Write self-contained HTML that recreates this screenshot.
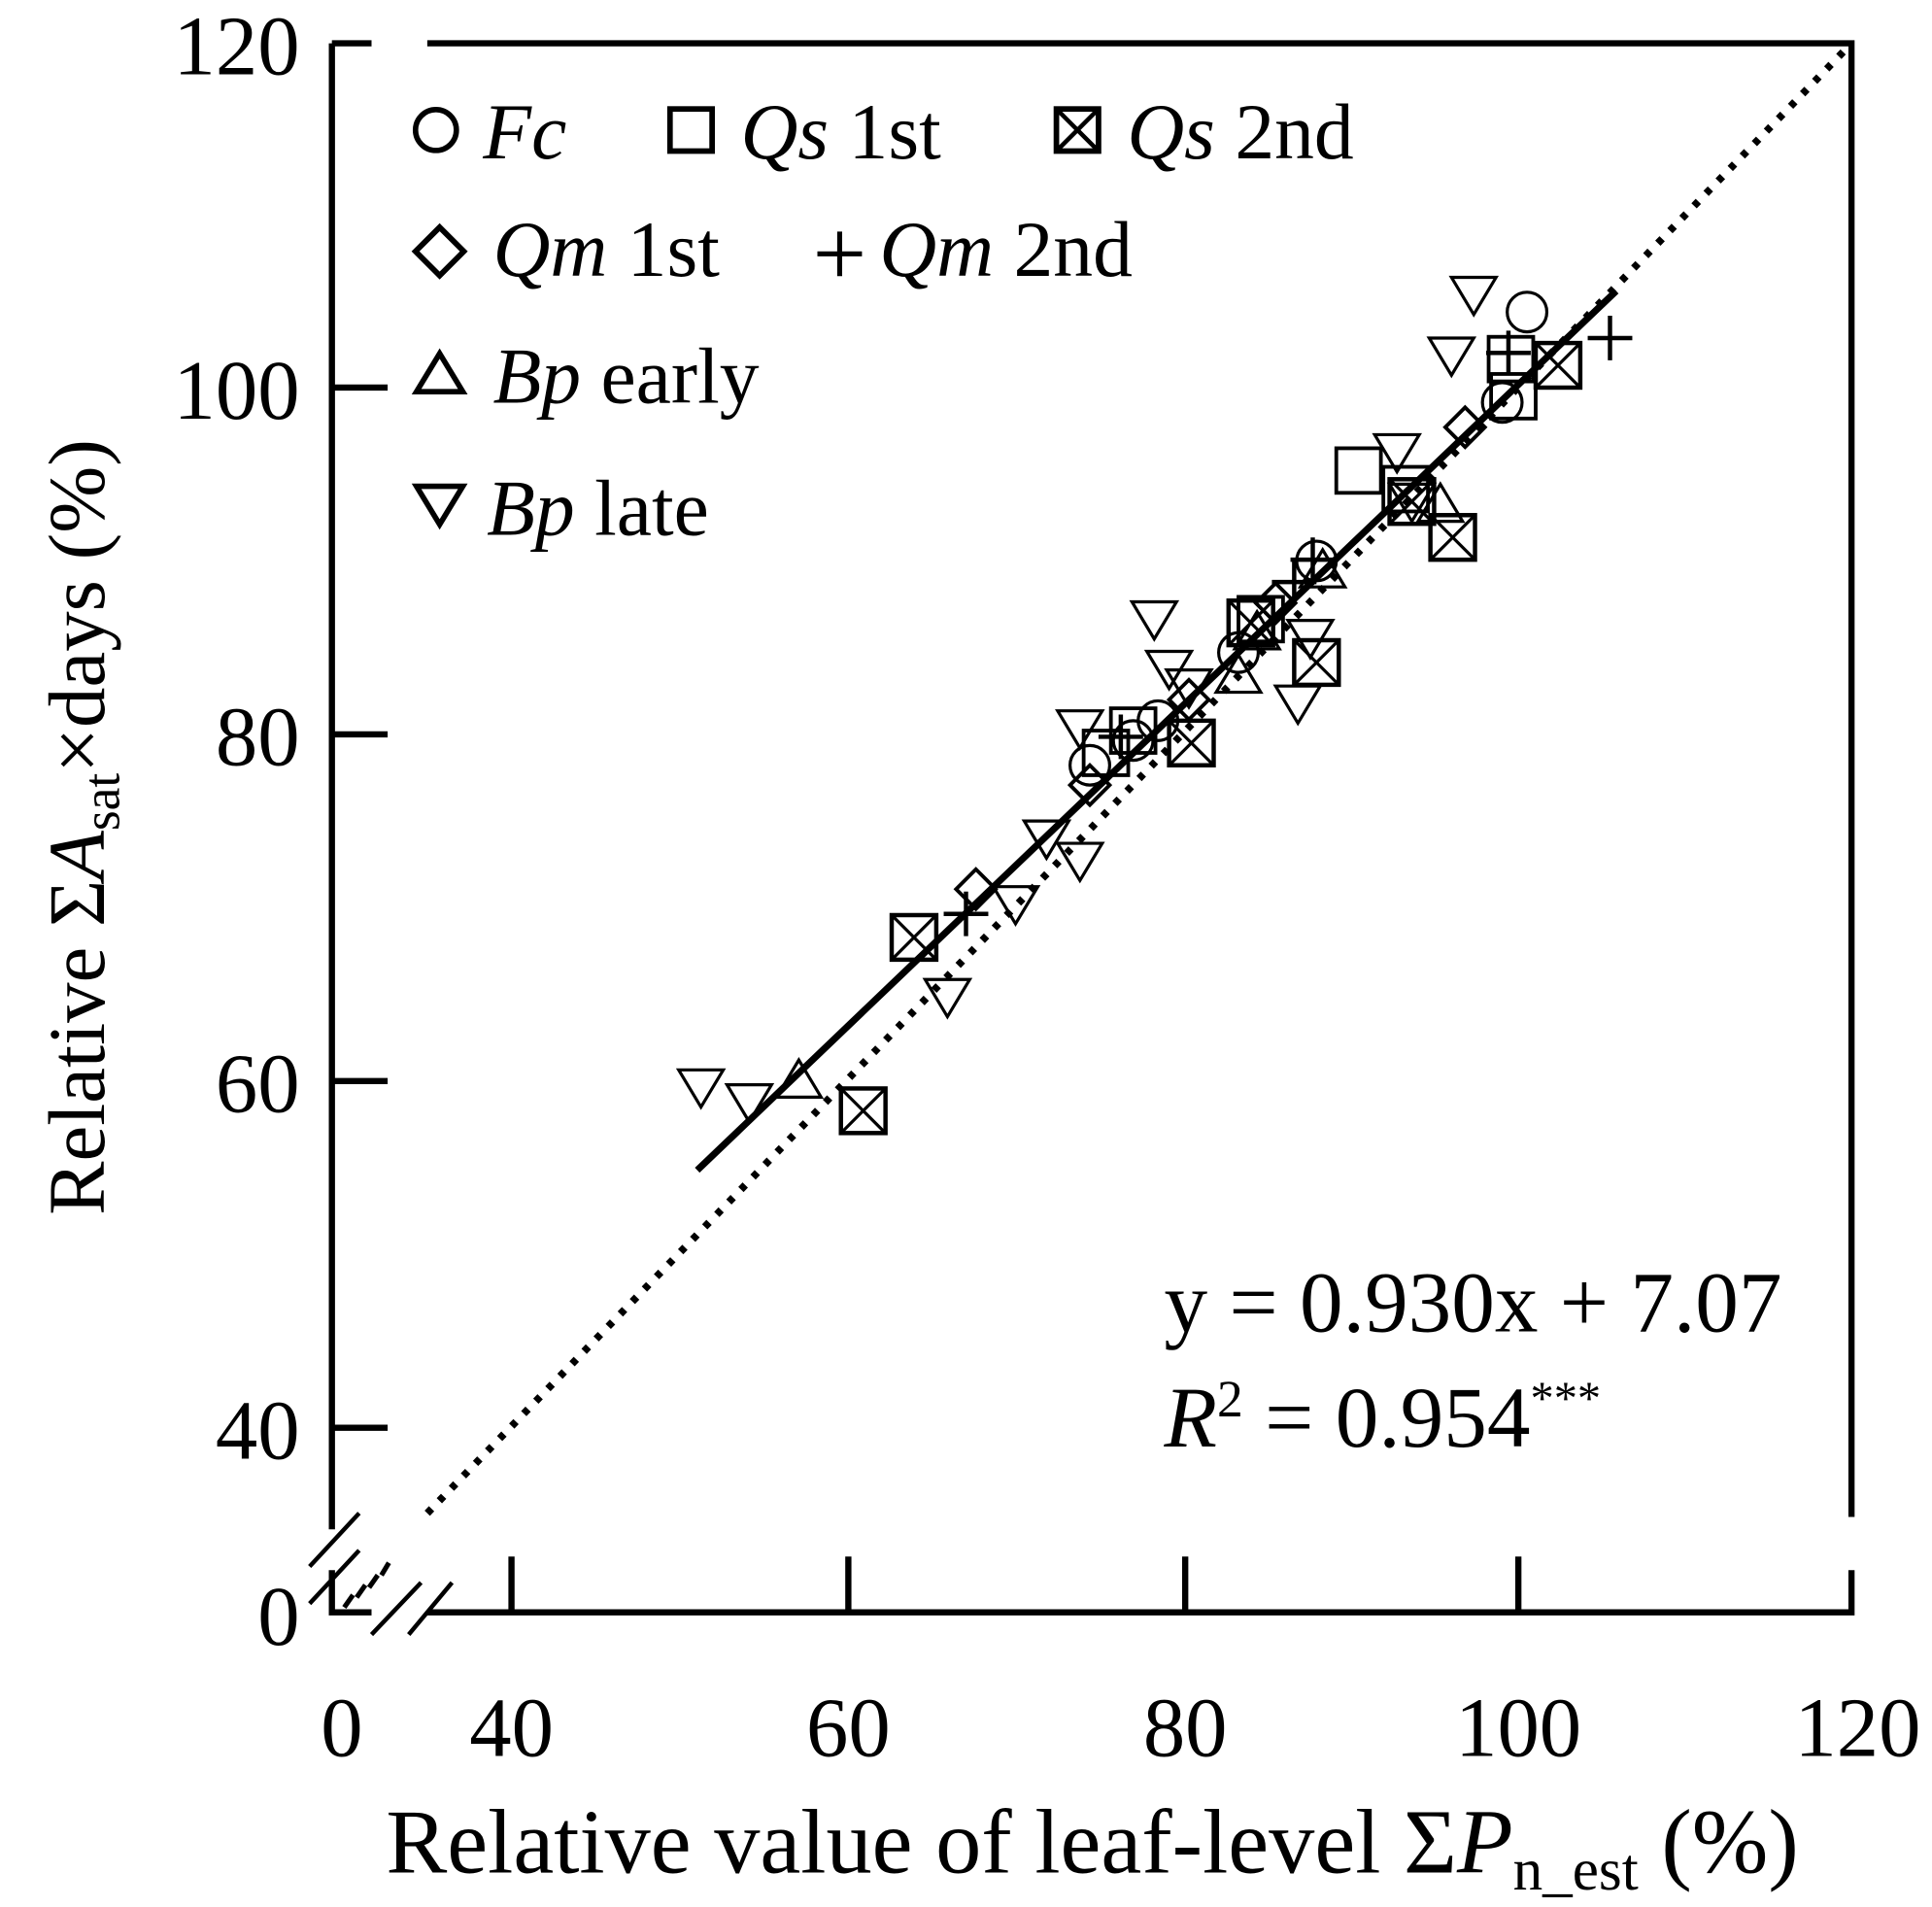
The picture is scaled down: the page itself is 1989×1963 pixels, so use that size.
<!DOCTYPE html>
<html><head><meta charset="utf-8"><style>html,body{margin:0;padding:0;background:#fff}svg{display:block}</style></head><body>
<svg width="1989" height="1963" viewBox="0 0 1560 1540" preserveAspectRatio="none" xmlns="http://www.w3.org/2000/svg" font-family="Liberation Serif, serif">
<defs>
<g id="dt"><path d="M-18,-14 L18,-14 L0,16 Z" fill="none" stroke="#000" stroke-width="2.5"/></g>
<g id="ut"><path d="M-18,14 L18,14 L0,-16 Z" fill="none" stroke="#000" stroke-width="2.5"/></g>
<g id="ci"><circle r="16" fill="none" stroke="#000" stroke-width="2.5"/></g>
<g id="sq"><rect x="-18" y="-18" width="36" height="36" fill="none" stroke="#000" stroke-width="3"/></g>
<g id="xs"><rect x="-18" y="-18" width="36" height="36" fill="none" stroke="#000" stroke-width="3.5"/><path d="M-18,-18L18,18M18,-18L-18,18" stroke="#000" stroke-width="2.5"/></g>
<g id="di"><path d="M0,-16L16,0L0,16L-16,0Z" fill="none" stroke="#000" stroke-width="3"/></g>
<g id="pl"><path d="M-18,0H18M0,-18V18" stroke="#000" stroke-width="3.5"/></g>
</defs>
<g stroke="#000" stroke-width="5" fill="none">
<path d="M268,35V1235M268,1268V1302H300M345,1302H1495V1268M1495,1225V35H345M300,35H268"/>
<path d="M268,313H313M268,593H313M268,873H313M268,1153H313"/>
<path d="M413,1302V1257M685,1302V1257M957,1302V1257M1226,1302V1257"/>
<path d="M250,1265L290,1222M250,1295L290,1252M300,1320L340,1278M330,1320L365,1278" stroke-width="3.5"/>
<path d="M278,1298L285,1288M288,1290L295,1280M298,1282L305,1272M308,1272L314,1262" stroke-width="4"/>
<path d="M345,1222L1495,35" stroke-dasharray="5,9" stroke-width="6"/>
<path d="M563,945L1305,235" stroke-width="5.5"/>
</g>
<g>
<use href="#dt" x="566" y="878"/><use href="#dt" x="605" y="890"/><use href="#dt" x="1190" y="238"/><use href="#dt" x="1172" y="287"/><use href="#dt" x="1128" y="365"/><use href="#dt" x="932" y="500"/><use href="#dt" x="944" y="540"/><use href="#dt" x="872" y="588"/><use href="#dt" x="845" y="677"/><use href="#dt" x="872" y="695"/><use href="#dt" x="820" y="730"/><use href="#dt" x="765" y="805"/><use href="#dt" x="1048" y="568"/><use href="#dt" x="1058" y="515"/><use href="#dt" x="1140" y="405"/><use href="#dt" x="960" y="555"/>
<use href="#ut" x="645" y="872"/><use href="#ut" x="1163" y="407"/><use href="#ut" x="1000" y="545"/><use href="#ut" x="1015" y="510"/><use href="#ut" x="1068" y="460"/>
<use href="#ci" x="1233" y="252"/><use href="#ci" x="1213" y="325"/><use href="#ci" x="935" y="582"/><use href="#ci" x="915" y="598"/><use href="#ci" x="1000" y="527"/><use href="#ci" x="1063" y="453"/><use href="#ci" x="880" y="618"/>
<use href="#sq" x="1097" y="380"/><use href="#sq" x="1220" y="290"/><use href="#sq" x="1222" y="320"/><use href="#sq" x="893" y="608"/><use href="#sq" x="915" y="590"/><use href="#sq" x="1018" y="500"/><use href="#sq" x="1135" y="395"/>
<use href="#xs" x="738" y="757"/><use href="#xs" x="697" y="897"/><use href="#xs" x="1173" y="434"/><use href="#xs" x="1063" y="535"/><use href="#xs" x="962" y="600"/><use href="#xs" x="1140" y="405"/><use href="#xs" x="1258" y="295"/><use href="#xs" x="1010" y="503"/>
<use href="#di" x="788" y="718"/><use href="#di" x="880" y="634"/><use href="#di" x="1183" y="345"/><use href="#di" x="1030" y="487"/><use href="#di" x="960" y="565"/>
<use href="#pl" x="1300" y="273"/><use href="#pl" x="780" y="738"/><use href="#pl" x="1060" y="452"/><use href="#pl" x="1218" y="285"/><use href="#pl" x="1045" y="470"/><use href="#pl" x="905" y="595"/>
</g>
<g font-size="68" text-anchor="end">
<text x="242" y="60">120</text><text x="242" y="338">100</text><text x="242" y="618">80</text><text x="242" y="898">60</text><text x="242" y="1178">40</text><text x="242" y="1328">0</text>
</g>
<g font-size="68" text-anchor="middle">
<text x="276" y="1418">0</text><text x="413" y="1418">40</text><text x="685" y="1418">60</text><text x="957" y="1418">80</text><text x="1226" y="1418">100</text><text x="1500" y="1418">120</text>
<text x="882" y="1512" font-size="74">Relative value of leaf-level Σ<tspan font-style="italic">P</tspan><tspan font-size="48" dy="14">n_est</tspan><tspan dy="-14"> (%)</tspan></text>
</g>
<text transform="translate(84,668) rotate(-90)" font-size="65" text-anchor="middle">Relative Σ<tspan font-style="italic">A</tspan><tspan font-size="42" dy="12">sat</tspan><tspan dy="-12">×days (%)</tspan></text>
<g font-size="64">
<g transform="translate(352,105) scale(1.1)"><circle r="15" fill="none" stroke="#000" stroke-width="4"/></g><text x="390" y="128" font-style="italic">Fc</text>
<g transform="translate(558,105)"><rect x="-17" y="-17" width="34" height="34" fill="none" stroke="#000" stroke-width="4.5"/></g><text x="598" y="128"><tspan font-style="italic">Qs</tspan> 1st</text>
<g transform="translate(870,105)"><rect x="-17" y="-17" width="34" height="34" fill="none" stroke="#000" stroke-width="4.5"/><path d="M-17,-17L17,17M17,-17L-17,17" stroke="#000" stroke-width="3.5"/></g><text x="910" y="128"><tspan font-style="italic">Qs</tspan> 2nd</text>
<g transform="translate(355,203) scale(1.3)"><path d="M0,-15L15,0L0,15L-15,0Z" fill="none" stroke="#000" stroke-width="3.5"/></g><text x="398" y="223"><tspan font-style="italic">Qm</tspan> 1st</text>
<g transform="translate(678,205)"><path d="M-18,0H18M0,-18V18" stroke="#000" stroke-width="4"/></g><text x="710" y="223"><tspan font-style="italic">Qm</tspan> 2nd</text>
<g transform="translate(355,302) scale(1.1)"><path d="M-17,13 L17,13 L0,-15 Z" fill="none" stroke="#000" stroke-width="4"/></g><text x="398" y="325"><tspan font-style="italic">Bp</tspan> early</text>
<g transform="translate(355,407) scale(1.1)"><path d="M-17,-13 L17,-13 L0,15 Z" fill="none" stroke="#000" stroke-width="4"/></g><text x="393" y="432"><tspan font-style="italic">Bp</tspan> late</text>
<text x="940" y="1075" font-size="70">y = 0.930x + 7.07</text>
<text x="940" y="1168" font-size="70"><tspan font-style="italic">R</tspan><tspan font-size="42" dy="-24">2</tspan><tspan dy="24"> = 0.954</tspan><tspan font-size="38" dy="-26">***</tspan></text>
</g>
</svg>
</body></html>
